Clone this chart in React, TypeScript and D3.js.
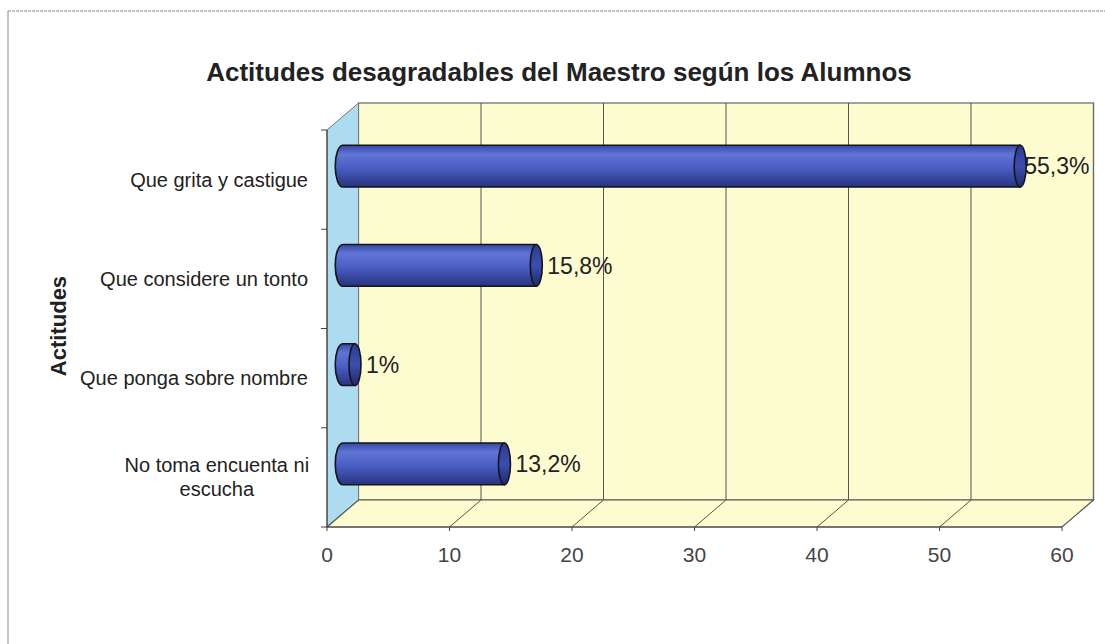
import React from "react";
import * as d3 from "d3";

const title = "Actitudes desagradables del Maestro según los Alumnos";
const yAxisTitle = "Actitudes";
const categories = [
  "Que grita y castigue",
  "Que considere un tonto",
  "Que ponga sobre nombre",
  "No toma encuenta ni escucha",
];
const categoryLines = [
  ["Que grita y castigue"],
  ["Que considere un tonto"],
  ["Que ponga sobre nombre"],
  ["No toma encuenta ni", "escucha"],
];
const values = [55.3, 15.8, 1, 13.2];
const valueLabels = ["55,3%", "15,8%", "1%", "13,2%"];
const xTicks = [0, 10, 20, 30, 40, 50, 60];

export default function App() {
  const W = 1105, H = 644;
  const x = d3.scaleLinear().domain([0, 60]).range([327, 1062]);
  const y = d3.scaleBand<string>().domain(categories).range([130, 527]);
  const DX = 31.5, DY = -27;
  const top = 130, bottom = 527;
  const x0 = x(0), x1 = x(60);
  const bw = y.bandwidth();
  const barH = bw * 0.42;
  const capL = 7.5, capR = 6;
  const labelFont = 23;
  const font = "Arial, 'Liberation Sans', Helvetica, sans-serif";

  const estW = (s: string) =>
    s.split("").reduce((a, ch) => a + (ch === "," ? 0.278 : ch === "%" ? 0.889 : 0.556), 0) * labelFont;

  return (
    <svg width={W} height={H} style={{ position: "absolute", left: 0, top: 0, background: "#fff" }}>
      <defs>
        <linearGradient id="barGrad" x1="0" y1="0" x2="0" y2="1">
          <stop offset="0%" stopColor="#3647a6" />
          <stop offset="22%" stopColor="#6075d6" />
          <stop offset="55%" stopColor="#4a5dc2" />
          <stop offset="100%" stopColor="#27337f" />
        </linearGradient>
        <linearGradient id="capGrad" x1="0" y1="0" x2="0" y2="1">
          <stop offset="0%" stopColor="#2c3a8e" />
          <stop offset="50%" stopColor="#3c4eae" />
          <stop offset="100%" stopColor="#1f2a6e" />
        </linearGradient>
      </defs>
      {/* frame */}
      <line x1={8} y1={11} x2={1105} y2={11} stroke="#888" strokeWidth={1} strokeDasharray="3,1" />
      <line x1={8} y1={11} x2={8} y2={644} stroke="#888" strokeWidth={1} />

      {/* title */}
      <text x={559} y={81} textAnchor="middle" fontFamily={font} fontWeight="bold" fontSize={26} fill="#222">
        {title}
      </text>

      {/* back wall */}
      <rect x={x0 + DX} y={top + DY} width={x1 - x0} height={bottom - top} fill="#fdfbd0" stroke="#666" strokeWidth={1.2} />
      {/* side wall */}
      <polygon
        points={`${x0},${top} ${x0 + DX},${top + DY} ${x0 + DX},${bottom + DY} ${x0},${bottom}`}
        fill="#addcf0"
        stroke="#777"
        strokeWidth={1}
      />
      {/* floor */}
      <polygon
        points={`${x0},${bottom} ${x1},${bottom} ${x1 + DX},${bottom + DY} ${x0 + DX},${bottom + DY}`}
        fill="#fdfbd0"
        stroke="#555"
        strokeWidth={1.2}
      />
      {/* grid lines */}
      {xTicks.map((t) => (
        <g key={"g" + t}>
          {t > 0 && t < 60 && (
            <line x1={x(t) + DX} y1={top + DY} x2={x(t) + DX} y2={bottom + DY} stroke="#555" strokeWidth={1} />
          )}
          {t > 0 && t < 60 && (
            <line x1={x(t)} y1={bottom} x2={x(t) + DX} y2={bottom + DY} stroke="#555" strokeWidth={1} />
          )}
        </g>
      ))}
      <line x1={x1 + DX} y1={top + DY} x2={x1 + DX} y2={bottom + DY} stroke="#666" strokeWidth={1.2} />

      {/* category axis */}
      <line x1={x0} y1={top} x2={x0} y2={bottom} stroke="#444" strokeWidth={1.2} />
      {[...categories.map((c) => y(c)!), bottom].map((v, i) => (
        <line key={"yt" + i} x1={x0 - 6} y1={v} x2={x0} y2={v} stroke="#444" strokeWidth={1} />
      ))}
      {/* value axis */}
      <line x1={x0} y1={bottom} x2={x1} y2={bottom} stroke="#444" strokeWidth={1.2} />
      {xTicks.map((t) => (
        <g key={"xt" + t}>
          <line x1={x(t)} y1={bottom} x2={x(t)} y2={bottom + 4} stroke="#444" strokeWidth={1} />
          <text x={x(t)} y={562} textAnchor="middle" fontFamily={font} fontSize={21} fill="#444">
            {t}
          </text>
        </g>
      ))}

      {/* category labels */}
      {categories.map((c, i) => {
        const lines = categoryLines[i];
        const cy = y(c)! + bw / 2;
        const lh = 24;
        const startY = cy - ((lines.length - 1) * lh) / 2;
        const widest = Math.max(...lines.map((l) => l.length));
        const cx = 308 - widest * 9.6 / 2;
        return (
          <text
            key={"cl" + i}
            x={lines.length > 1 ? cx : 308}
            textAnchor={lines.length > 1 ? "middle" : "end"}
            fontFamily={font}
            fontSize={20}
            fill="#222"
          >
            {lines.map((l, j) => (
              <tspan key={j} x={lines.length > 1 ? cx : 308} y={startY + j * lh} dy="0.35em">
                {l}
              </tspan>
            ))}
          </text>
        );
      })}

      {/* y axis title */}
      <text
        transform={`translate(66,326) rotate(-90)`}
        textAnchor="middle"
        fontFamily={font}
        fontWeight="bold"
        fontSize={22}
        fill="#222"
      >
        {yAxisTitle}
      </text>

      {/* value labels (drawn before bars so bars can overlap) */}
      {categories.map((c, i) => {
        const cy = y(c)! + bw / 2 + DY / 2;
        const xe = x(values[i]) + DX / 2 + capR;
        const w = estW(valueLabels[i]);
        const limit = x1 + DX - 4;
        const clamp = xe + 5 + w > limit;
        return (
          <text
            key={"vl" + i}
            x={clamp ? limit : xe + 5}
            y={cy}
            dy="0.36em"
            textAnchor={clamp ? "end" : "start"}
            fontFamily={font}
            fontSize={labelFont}
            fill="#222"
          >
            {valueLabels[i]}
          </text>
        );
      })}

      {/* bars: horizontal cylinders */}
      {categories.map((c, i) => {
        const cy = y(c)! + bw / 2 + DY / 2;
        const xs = x(0) + DX / 2;
        const xe = x(values[i]) + DX / 2;
        const r = barH / 2;
        const body = `M${xe},${cy - r} L${xs},${cy - r} A${capL},${r} 0 0 0 ${xs},${cy + r} L${xe},${cy + r} Z`;
        return (
          <g key={"b" + i}>
            <path d={body} fill="url(#barGrad)" stroke="#151515" strokeWidth={1.6} />
            <ellipse cx={xe} cy={cy} rx={capR} ry={r} fill="url(#capGrad)" stroke="#151515" strokeWidth={1.6} />
          </g>
        );
      })}
    </svg>
  );
}
